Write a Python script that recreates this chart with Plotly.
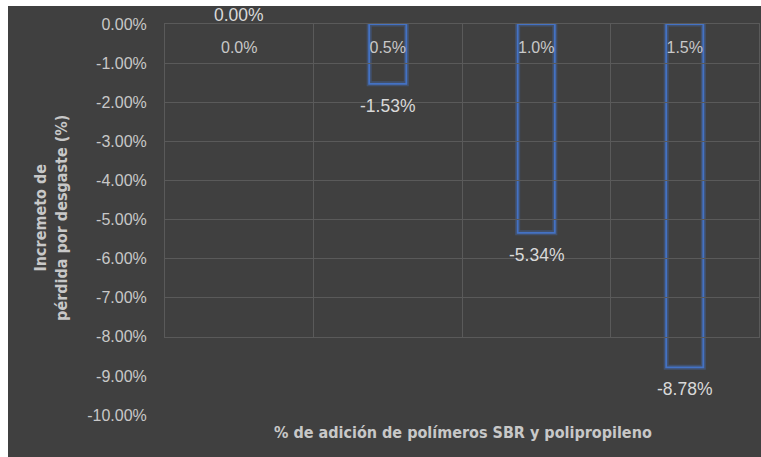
import plotly.graph_objects as go

categories = ["0.0%", "0.5%", "1.0%", "1.5%"]
values = [0.0, -0.0153, -0.0534, -0.0878]
value_labels = ["0.00%", "-1.53%", "-5.34%", "-8.78%"]
y_tick_vals = [0.0, -0.01, -0.02, -0.03, -0.04, -0.05, -0.06, -0.07, -0.08, -0.09, -0.10]
y_tick_text = ["0.00%", "-1.00%", "-2.00%", "-3.00%", "-4.00%", "-5.00%", "-6.00%",
               "-7.00%", "-8.00%", "-9.00%", "-10.00%"]
x_title = "% de adición de polímeros SBR y polipropileno"
y_title = "Incremeto de<br>pérdida por desgaste (%)"

BG = "#404040"
GRID = "#5a5a5a"
TICK = "#c8c8c8"
LABEL = "#d9d9d9"
BLUE = "#4472C4"
FONT = "Liberation Sans, Arial, sans-serif"
TFONT = "Liberation Sans Narrow, DejaVu Sans Condensed, sans-serif"

x_idx = list(range(len(categories)))
# zero-height bars show no outline
line_w = [0 if v == 0 else 1.8 for v in values]
glow_w = [0 if v == 0 else 5 for v in values]

fig = go.Figure()
# grid subplot (grid stops at -8%), drawn first so bars sit on top
fig.add_trace(go.Scatter(x=[x_idx[0]], y=[values[0]], xaxis="x2", yaxis="y2",
                         mode="markers", marker=dict(opacity=0), hoverinfo="skip", showlegend=False))
fig.add_trace(go.Bar(x=x_idx, y=values, width=0.25,
                     marker=dict(color="rgba(0,0,0,0)", line=dict(color="rgba(68,114,196,0.35)", width=glow_w)),
                     hoverinfo="skip", showlegend=False))
fig.add_trace(go.Bar(x=x_idx, y=values, width=0.25,
                     marker=dict(color="rgba(0,0,0,0)", line=dict(color=BLUE, width=line_w)),
                     showlegend=False))

for xi, v, t in zip(x_idx, values, value_labels):
    fig.add_annotation(x=xi, y=v, text=t, showarrow=False, yshift=(9 if v >= 0 else -22),
                       font=dict(family=FONT, size=17.5, color=LABEL))

fig.update_layout(
    width=753, height=451,
    margin=dict(l=157, r=2, t=18, b=42),
    paper_bgcolor=BG,
    plot_bgcolor="rgba(0,0,0,0)",
    barmode="overlay",
    showlegend=False,
    xaxis=dict(range=[-0.5, 3.5], tickvals=x_idx, ticktext=categories,
               anchor="free", position=1, side="bottom",
               ticks="outside", ticklen=9, tickcolor="rgba(0,0,0,0)",
               showgrid=False, zeroline=False, showline=False,
               tickfont=dict(family=FONT, size=16, color=TICK)),
    yaxis=dict(range=[-0.10, 0.0], tickvals=y_tick_vals, ticktext=y_tick_text,
               showgrid=False, zeroline=False, showline=False,
               ticks="outside", ticklen=14, tickcolor="rgba(0,0,0,0)",
               tickfont=dict(family=FONT, size=16, color=TICK)),
    xaxis2=dict(range=[-0.5, 3.5], anchor="y2", overlaying="x", tick0=-0.5, dtick=1,
                showticklabels=False, ticks="", showgrid=True, gridcolor=GRID, gridwidth=1,
                zeroline=False, showline=True, mirror=True, linecolor=GRID, linewidth=1),
    yaxis2=dict(range=[-0.08, 0.0], domain=[0.2, 1], anchor="x2", dtick=0.01,
                showticklabels=False, ticks="", showgrid=True, gridcolor=GRID, gridwidth=1,
                zeroline=False, showline=True, mirror=True, linecolor=GRID, linewidth=1),
)

fig.add_annotation(text=x_title, xref="paper", yref="paper", x=0.501, y=-0.0435,
                   yanchor="middle", showarrow=False,
                   font=dict(family=TFONT, size=16, color=TICK, weight="bold"))
fig.add_annotation(text=y_title, xref="paper", yref="paper", x=-0.192, y=0.504,
                   xanchor="center", yanchor="middle", textangle=-90, showarrow=False,
                   font=dict(family=TFONT, size=16, color=TICK, weight="bold"))

fig.write_html("out.html",
               post_script="document.body.style.margin='6px 0 0 8px';document.body.style.overflow='hidden';")
